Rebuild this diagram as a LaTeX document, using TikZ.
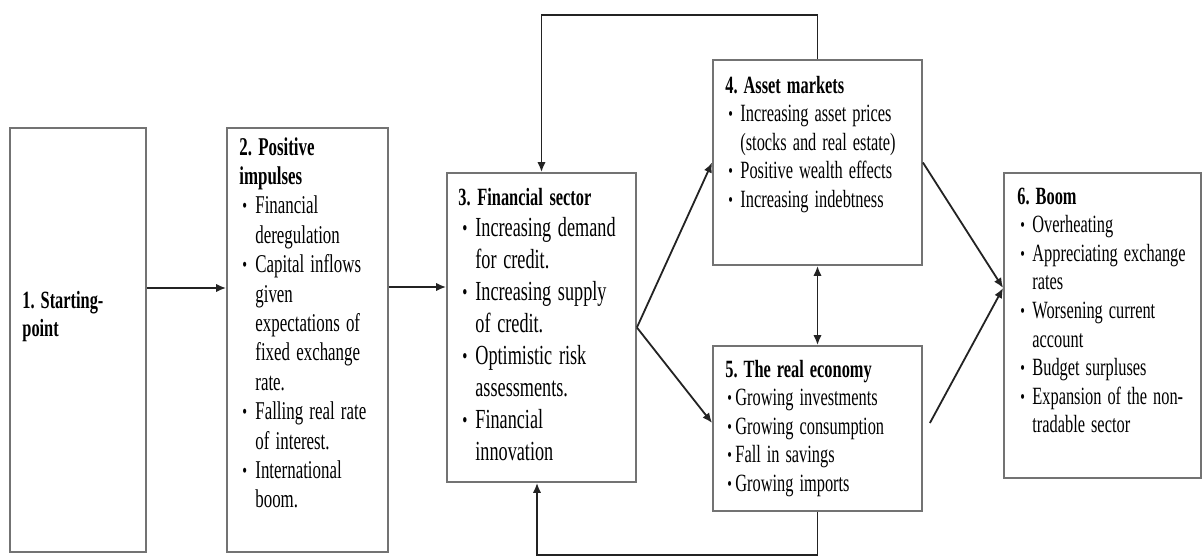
\documentclass[tikz,border=0pt]{standalone}
\usepackage{fontspec}
\setmainfont{Liberation Serif}[FakeStretch=0.66]
\usepackage{graphicx}
\usetikzlibrary{arrows.meta,calc}
\definecolor{boxgray}{RGB}{115,115,115}
\definecolor{linegray}{RGB}{35,35,35}
\newlength\bpre
\newlength\bind
\newcommand\setind[3]{\setlength\bpre{#1}\setlength\bind{#2}\frenchspacing\spaceskip=#3 plus 1pt minus 0.5pt\relax}
\newcommand\sbul{\raisebox{0.5pt}{\scalebox{0.8}{\textbullet}}}
\newcommand\bl{\newline\makebox[\bind][l]{\hspace{\bpre}\sbul}}
\newcommand\cl{\newline\hspace*{\bind}}
\newcommand\fsA{\fontsize{12.4pt}{14.3pt}\selectfont}
\newcommand\fsB{\fontsize{12.8pt}{14.7pt}\selectfont}
\newcommand\fsC{\fontsize{13.8pt}{15.95pt}\selectfont}
\newcommand\fsT{\fontsize{12.4pt}{15.95pt}\selectfont}
\begin{document}
\begin{tikzpicture}[x=0.5pt,y=-0.5pt,
  box/.style={draw=boxgray, line width=0.9pt, fill=white, inner sep=0pt},
  txt/.style={anchor=base west, inner sep=0pt, text width=200pt, font=\fsA},
  arr/.style={draw=linegray, line width=0.9pt, -{Latex[length=5pt,width=4.2pt]}},
  arrboth/.style={arr, {Latex[length=5pt,width=4.2pt]}-{Latex[length=5pt,width=4.2pt]}}
]
\useasboundingbox (0,0) rectangle (1204,557);
\fill[white] (0,0) rectangle (1204,557);

% boxes
\node[box, minimum width=68pt, minimum height=212pt] (b1) at (78,340) {};
\node[box, minimum width=80.5pt, minimum height=212pt] (b2) at (307.5,340) {};
\node[box, minimum width=94.5pt, minimum height=154.5pt] (b3) at (541.5,327.5) {};
\node[box, minimum width=104.5pt, minimum height=102.5pt] (b4) at (817.5,162.5) {};
\node[box, minimum width=104.5pt, minimum height=82.5pt] (b5) at (817.5,428.5) {};
\node[box, minimum width=98.5pt, minimum height=152.5pt] (b6) at (1102.5,325.5) {};

% texts
\node[txt] (t1) at (22,308) {\setind{0pt}{0pt}{3pt}\textbf{1. Starting-}\newline\textbf{point}};
\node[txt, font=\fsB] (t2) at (239,155) {\setind{1.5pt}{8pt}{3.1pt}%
\textbf{2. Positive}\newline\textbf{impulses}%
\bl Financial\cl deregulation%
\bl Capital inflows\cl given\cl expectations of\cl fixed exchange\cl rate.%
\bl Falling real rate\cl of interest.%
\bl International\cl boom.};
\node[txt, font=\fsC] (t3) at (458,205) {\setind{2pt}{8.5pt}{3.35pt}%
{\fsT\textbf{3. Financial sector}}%
\bl Increasing demand\cl for credit.%
\bl Increasing supply\cl of credit.%
\bl Optimistic risk\cl assessments.%
\bl Financial\cl innovation};
\node[txt] (t4) at (725,93) {\setind{1.5pt}{7.5pt}{3pt}%
\textbf{4. Asset markets}%
\bl Increasing asset prices\cl (stocks and real estate)%
\bl Positive wealth effects%
\bl Increasing indebtness};
\node[txt] (t5) at (725,377) {\setind{1pt}{5pt}{3pt}%
\textbf{5. The real economy}%
\bl Growing investments%
\bl Growing consumption%
\bl Fall in savings%
\bl Growing imports};
\node[txt] (t6) at (1017,204) {\setind{1.5pt}{7.5pt}{3pt}%
\textbf{6. Boom}%
\bl Overheating%
\bl Appreciating exchange\cl rates%
\bl Worsening current\cl account%
\bl Budget surpluses%
\bl Expansion of the non-\cl tradable sector};

% connectors
\coordinate (ty) at (0,15);
\coordinate (by) at (0,555);
\draw[arr] ([yshift=26pt]b1.east) -- ([yshift=26pt]b2.west);
\draw[arr] ([yshift=26.5pt]b2.east) -- ([yshift=20.25pt]b3.west);
\draw[arr] (b3.east) -- (b4.west);
\draw[arr] (b3.east) -- ([yshift=2.75pt]b5.west);
\draw[arr] (b4.east) -- ([yshift=18.75pt]b6.west);
\draw[arr] ([xshift=3.5pt,yshift=2.75pt]b5.east) -- ([yshift=18.75pt]b6.west);
\draw[arrboth] (b4.south) -- (b5.north);
\draw[arr] (b4.north) -- (b4.north |- ty) -| (b3.north);
\draw[arr] (b5.south) -- (b5.south |- by) -| ([xshift=-2.25pt]b3.south);
\end{tikzpicture}
\end{document}
